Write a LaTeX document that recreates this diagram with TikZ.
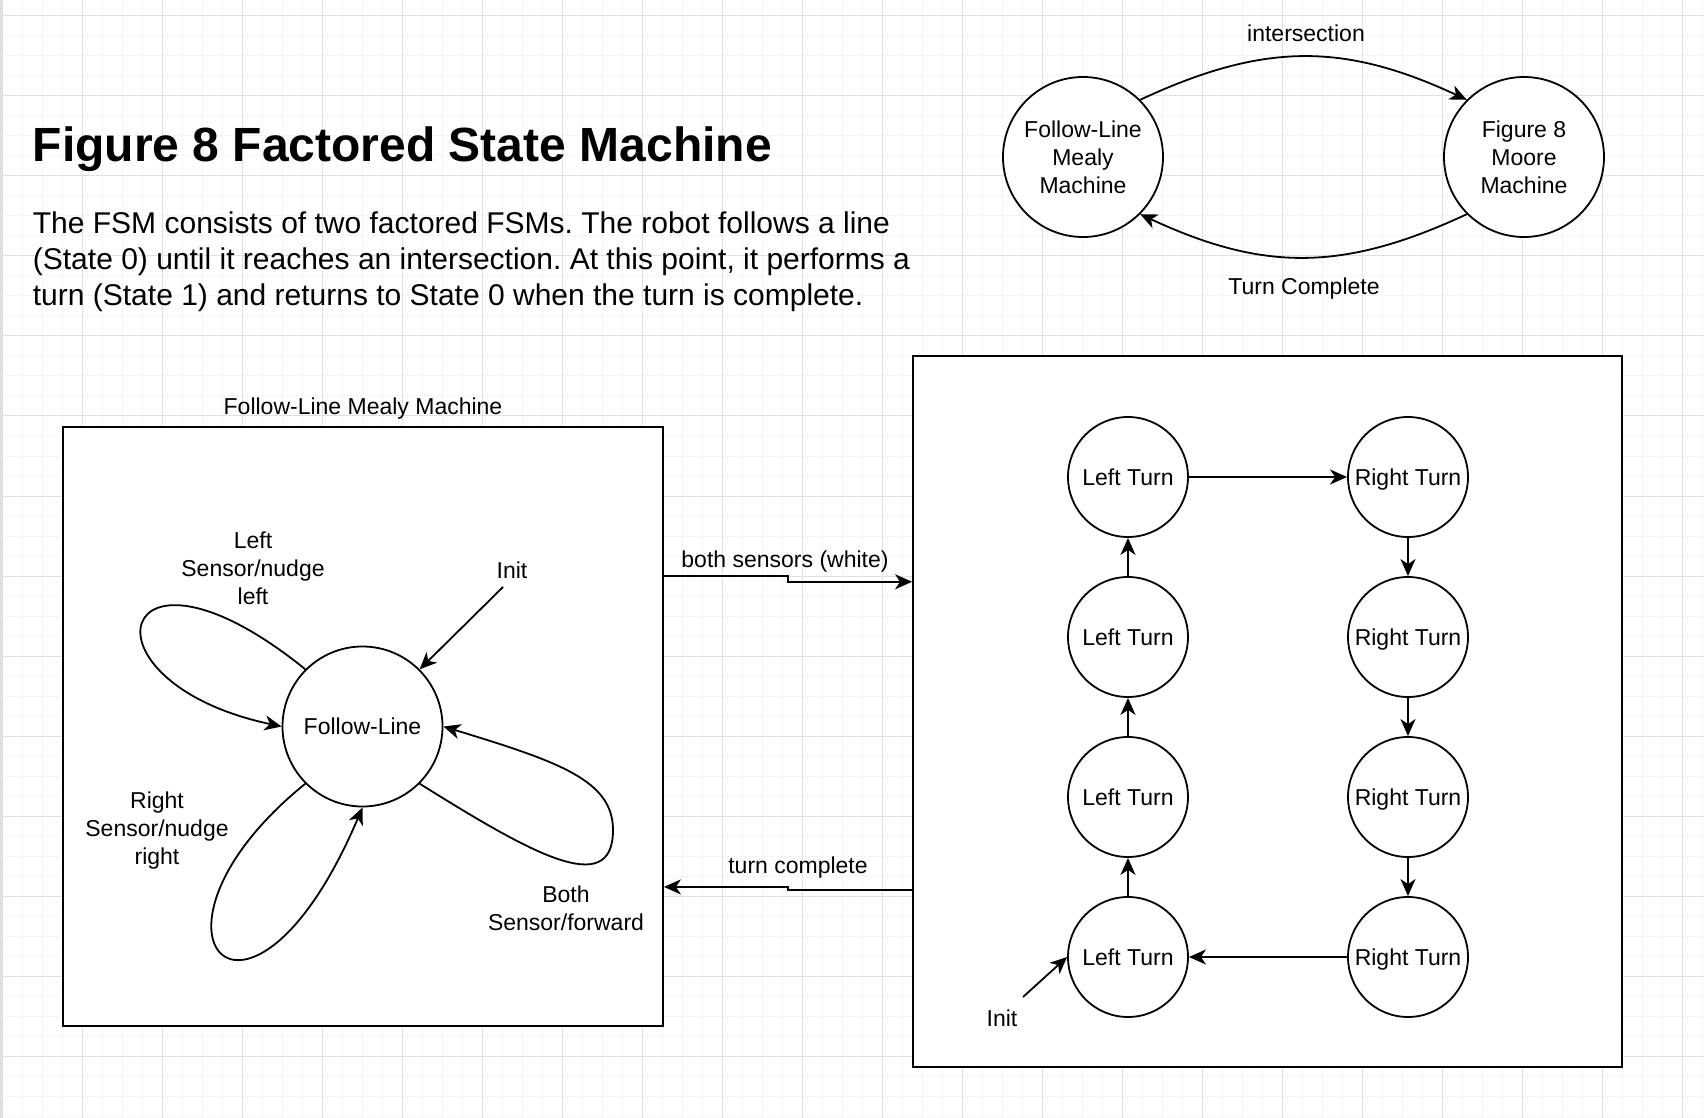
\documentclass[tikz,border=0pt]{standalone}
\usepackage{fontspec}
\setmainfont{Liberation Sans}
\usetikzlibrary{arrows.meta,calc}

\begin{document}
\frenchspacing
\begin{tikzpicture}[x=0.5pt,y=0.5pt,line width=0.9pt,
		>={Stealth[length=8.5pt,width=7.5pt,inset=2.5pt]},
		lbl/.style={font=\fontsize{11.5}{14}\selectfont,align=center,inner sep=0pt},
		state/.style={circle,draw,fill=white,inner sep=0pt,
			font=\fontsize{11.5}{14}\selectfont,align=center},
		turnstate/.style={state,minimum size=60pt,text height=8.5pt,text depth=0pt},
		bigstate/.style={state,minimum size=80pt},
		frame/.style={rectangle,draw,fill=white,inner sep=0pt},
		minorgrid/.style={draw=black!4,line width=0.5pt},
		majorgrid/.style={draw=black!12,line width=0.5pt}]
		\useasboundingbox (0,0) rectangle (1704,-1118);
		\draw[minorgrid,shift={(2,-16)}] (-2,-1102) grid[step=20] (1702,16);
		\draw[majorgrid,shift={(2,-16)}] (-2,-1102) grid[step=80] (1702,16);
		\fill[black!12] (0,0) rectangle (3,-1118);
%		\draw[help lines] (0,0) grid (1704,-1118);

		\path (32,-162) node(title) [anchor=base west,inner sep=0pt] {\fontsize{24}{28}\selectfont\bfseries Figure 8 Factored State Machine};
		\path (32,-211) node(desc) [anchor=north west,inner sep=0pt,align=left,font=\fontsize{15}{18}\selectfont] {The FSM consists of two factored FSMs. The robot follows a line\\(State 0) until it reaches an intersection. At this point, it performs a\\turn (State 1) and returns to State 0 when the turn is complete.};

		\path (1083,-157) node(topfl) [bigstate] {Follow-Line\\Mealy\\Machine};
		\path (1524,-157) node(topfm) [bigstate] {Figure 8\\Moore\\Machine};
		\path (1306,-42) node(intlbl) [lbl,anchor=base] {intersection};
		\path (1304,-295) node(turnlbl) [lbl,anchor=base] {Turn Complete};
		\draw[->] (topfl.45) .. controls +(25:136) and +(155:136) .. (topfm.135);
		\draw[->] (topfm.225) .. controls +(205:136) and +(-25:136) .. (topfl.315);

		\path (363,-726.5) node(mealybox) [frame,minimum width=300pt,minimum height=299.5pt] {};
		\path (363,-415) node(mealylbl) [lbl,anchor=base] {Follow-Line Mealy Machine};
		\path (1267.5,-711.5) node(moorebox) [frame,minimum width=354.5pt,minimum height=355.5pt] {};

		\path (362.5,-726.5) node(follow) [bigstate] {Follow-Line};
		\path (503,-587) coordinate (init1);
		\path (512,-578) node(init1lbl) [lbl,anchor=base] {Init};
		\draw[->] (init1) -- (follow.45);
		\path (253,-568) node(leftlbl) [lbl] {Left\\Sensor/nudge\\left};
		\path (157,-831) node(rightlbl) [lbl] {Right\\Sensor/nudge\\right};
		\path (566,-908) node(bothlbl) [lbl] {Both\\Sensor/forward};
		\path (613,-830) coordinate (bothtip);
		\draw[->] (follow.135) .. controls +(141:245) and +(168:215) .. (follow.180);
		\draw[->] (follow.225) .. controls +(219:240) and +(247:290) .. (follow.270);
		\draw[->] (follow.315) .. controls +(-32:130) and +(270:70) .. (bothtip)
			.. controls +(90:50) and +(-17:120) .. (follow.0);

		\path ($(mealybox.north east)!0.25!(mealybox.south east)$) coordinate (sensA);
		\path ($(moorebox.north west)!0.318!(moorebox.south west)$) coordinate (sensB);
		\path ($(moorebox.north west)!0.75!(moorebox.south west)$) coordinate (doneA);
		\path ($(mealybox.north east)!0.767!(mealybox.south east)$) coordinate (doneB);
		\draw[->] (sensA) -| ($(sensA)!0.5!(sensB)$) |- (sensB);
		\draw[->] (doneA) -| ($(doneA)!0.5!(doneB)$) |- (doneB);
		\path (785,-567) node(senslbl) [lbl,anchor=base] {both sensors (white)};
		\path (798,-873) node(donelbl) [lbl,anchor=base] {turn complete};

		\path (1128,-477) node(lt1) [turnstate] {Left Turn};
		\path (1128,-637) node(lt2) [turnstate] {Left Turn};
		\path (1128,-797) node(lt3) [turnstate] {Left Turn};
		\path (1128,-957) node(lt4) [turnstate] {Left Turn};
		\path (1408,-477) node(rt1) [turnstate] {Right Turn};
		\path (1408,-637) node(rt2) [turnstate] {Right Turn};
		\path (1408,-797) node(rt3) [turnstate] {Right Turn};
		\path (1408,-957) node(rt4) [turnstate] {Right Turn};
		\draw[->] (lt1) -- (rt1);
		\draw[->] (rt1) -- (rt2);
		\draw[->] (rt2) -- (rt3);
		\draw[->] (rt3) -- (rt4);
		\draw[->] (rt4) -- (lt4);
		\draw[->] (lt4) -- (lt3);
		\draw[->] (lt3) -- (lt2);
		\draw[->] (lt2) -- (lt1);
		\path (1023,-997) coordinate (init2);
		\path (1002,-1026) node(init2lbl) [lbl,anchor=base] {Init};
		\draw[->] (init2) -- (lt4.west);
	\end{tikzpicture}
\end{document}
